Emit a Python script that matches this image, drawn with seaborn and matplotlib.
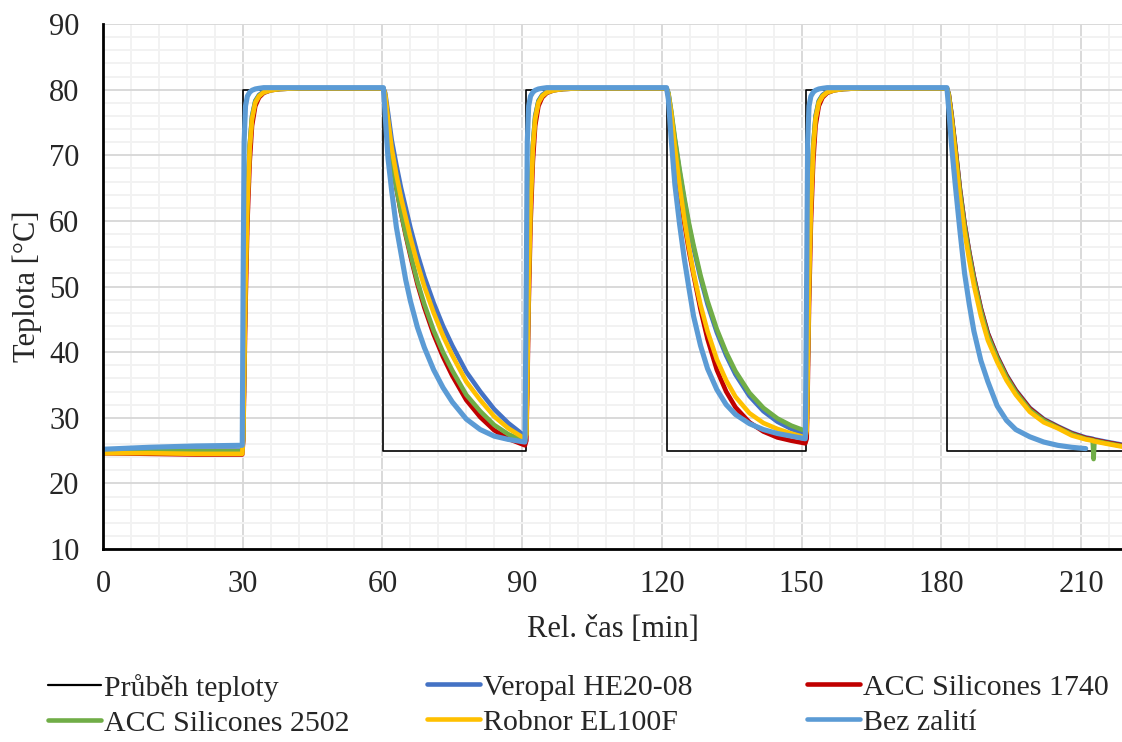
import numpy as np
import pandas as pd
import matplotlib
matplotlib.use("Agg")
import matplotlib.pyplot as plt
import seaborn as sns
from matplotlib.ticker import MultipleLocator

# ---------------- data ----------------
step_time = [0, 30.0, 30.0, 60.2, 60.2, 90.8, 90.8, 121.0, 121.0, 151.0, 151.0, 181.2, 181.2, 218.8]
step_temp = [25, 25, 80, 80, 25, 25, 80, 80, 25, 25, 80, 80, 25, 25]

time_min = [
    0, 10, 20, 29.9,
    30.1, 30.3, 30.6, 31.0, 31.5, 32.0, 32.7, 33.5, 34.5, 36.0, 38.0, 42.0, 50.0, 60.2,
    60.6, 61.2, 62.0, 63.0, 64.0, 65.0, 66.0, 67.5, 69.0, 71.0, 73.0, 75.0, 78.0, 81.0, 84.0, 87.0, 90.6,
    90.9, 91.1, 91.4, 91.8, 92.3, 92.8, 93.5, 94.3, 95.3, 96.8, 98.8, 102.8, 110.8, 121.0,
    121.4, 122.0, 122.8, 123.8, 124.8, 125.8, 126.8, 128.3, 129.8, 131.8, 133.8, 135.8, 138.8, 141.8, 144.8, 147.8, 150.8,
    151.1, 151.3, 151.6, 152.0, 152.5, 153.0, 153.7, 154.5, 155.5, 157.0, 159.0, 163.0, 171.0, 181.2,
    181.6, 182.2, 183.0, 184.0, 185.0, 186.0, 187.0, 188.5, 190.0, 192.0, 194.0, 196.0, 199.0, 202.0, 205.0, 208.0, 211.0,
    212.5, 212.7, 212.9, 215.0, 218.8,
]

veropal = [
    25.0, 25.0, 25.0, 25.0,
    27, 37, 51, 63, 71.5, 76, 78.3, 79.2, 79.7, 80.0, 80.1, 80.2, 80.2, 80.2,
    79.5, 76.5, 72.3, 68.5, 65, 62, 59, 55, 51.5, 47.5, 44, 41, 37, 34, 31.3, 29.2, 27.2,
    28, 37, 51, 63, 71.5, 76, 78.3, 79.2, 79.7, 80.0, 80.1, 80.2, 80.2, 80.2,
    79.5, 76.6, 72.3, 67.5, 63.2, 59.3, 55.9, 51.3, 47.3, 43.0, 39.5, 36.6, 33.3, 31.0, 29.4, 28.3, 27.5,
    28.5, 37, 51, 63, 71.5, 76, 78.3, 79.2, 79.7, 80.0, 80.1, 80.2, 80.2, 80.2,
    79.3, 76.2, 71.3, 64.9, 59.6, 55.3, 51.5, 46.7, 42.9, 39.4, 36.5, 34.2, 31.5, 29.8, 28.7, 27.7, 27.0,
    26.8, 26.7, 26.7, 26.4, 25.9,
]

acc_1740 = [
    24.6, 24.5, 24.4, 24.4,
    26.5, 34, 47, 59.5, 69, 74.5, 77.5, 78.8, 79.5, 79.9, 80.1, 80.2, 80.2, 80.2,
    79, 74.5, 69.5, 65, 61.2, 57.8, 54.7, 50.4, 46.8, 42.7, 39.3, 36.4, 32.7, 30.1, 28.1, 26.8, 25.8,
    26.5, 34, 47, 59.5, 69, 74.5, 77.5, 78.8, 79.5, 79.9, 80.1, 80.2, 80.2, 80.2,
    79, 75.5, 70, 64.5, 59.8, 55.5, 51.8, 46.5, 42, 37.3, 34.0, 31.6, 29.3, 27.9, 27.0, 26.5, 26.1,
    26.8, 34, 47, 59.5, 69, 74.5, 77.5, 78.8, 79.5, 79.9, 80.1, 80.2, 80.2, 80.2,
    79.3, 76.2, 71.3, 64.8, 59.5, 55.2, 51.4, 46.6, 42.8, 39.3, 36.4, 34.1, 31.4, 29.7, 28.6, 27.6, 26.9,
    26.7, 26.6, 26.6, 26.3, 25.8,
]

acc_2502 = [
    25.0, 24.9, 24.9, 24.9,
    27, 37, 51, 63, 71.5, 75.8, 78.2, 79.1, 79.6, 79.9, 80.1, 80.2, 80.2, 80.2,
    79, 74.5, 69.5, 65, 61.3, 58, 55, 50.8, 47.3, 43.3, 40, 37.2, 33.5, 31, 28.9, 27.5, 26.4,
    27.5, 37, 51, 63, 71.5, 75.8, 78.2, 79.1, 79.6, 79.9, 80.1, 80.2, 80.2, 80.2,
    79.5, 76.8, 72.6, 67.9, 63.6, 59.7, 56.3, 51.7, 47.8, 43.5, 40.0, 37.1, 33.8, 31.5, 29.9, 28.8, 28.0,
    29, 37.5, 51, 63, 71.5, 75.8, 78.2, 79.1, 79.6, 79.9, 80.1, 80.2, 80.2, 80.2,
    79.3, 76.0, 71.0, 64.5, 59.2, 54.9, 51.1, 46.3, 42.5, 39.1, 36.2, 33.9, 31.2, 29.6, 28.5, 27.5, 26.8,
    26.6, 23.7, 26.5, 26.2, 25.7,
]

robnor = [
    24.6, 24.6, 24.5, 24.5,
    27, 36, 50, 62, 71, 75.5, 78.0, 79.0, 79.6, 79.9, 80.1, 80.2, 80.2, 80.2,
    79.3, 75.5, 71, 67, 63.5, 60.5, 57.5, 53.5, 50, 46, 42.5, 39.5, 35.5, 32.7, 30.2, 28.4, 26.8,
    27.5, 36, 50, 62, 71, 75.5, 78.0, 79.0, 79.6, 79.9, 80.1, 80.2, 80.2, 80.2,
    79.3, 76.4, 71.2, 65.4, 60.4, 56.0, 52.1, 47.2, 43.2, 38.9, 35.7, 33.2, 30.7, 29.2, 28.3, 27.6, 27.0,
    28, 36.5, 50, 62, 71, 75.5, 78.0, 79.0, 79.6, 79.9, 80.1, 80.2, 80.2, 80.2,
    79, 75.5, 70.3, 63.5, 58.3, 54.0, 50.2, 45.5, 41.8, 38.5, 35.7, 33.5, 30.9, 29.3, 28.4, 27.3, 26.7,
    26.5, 26.4, 26.4, 26.1, 25.6,
]

nan = float("nan")
bez_zaliti = [
    25.2, 25.5, 25.7, 25.8,
    52, 72, 77.5, 79.0, 79.6, 79.9, 80.1, 80.2, 80.3, 80.3, 80.3, 80.3, 80.3, 80.3,
    76, 69.5, 64.5, 59, 55, 51, 47.8, 43.8, 40.7, 37.3, 34.6, 32.4, 29.8, 28.2, 27.2, 26.7, 26.3,
    52, 72, 77.5, 79.0, 79.6, 79.9, 80.1, 80.2, 80.3, 80.3, 80.3, 80.3, 80.3, 80.3,
    78.5, 72.5, 65.5, 59.5, 54.3, 49.8, 45.5, 41, 37.5, 34.3, 32.0, 30.5, 29.1, 28.2, 27.6, 27.2, 26.8,
    52, 72, 77.5, 79.0, 79.6, 79.9, 80.1, 80.2, 80.3, 80.3, 80.3, 80.3, 80.3, 80.3,
    77, 71.5, 65.5, 58.5, 52, 47.3, 43.2, 38.7, 35.5, 31.8, 29.6, 28.2, 27.1, 26.3, 25.8, 25.5, 25.3,
    nan, nan, nan, nan, nan,
]

series_names = ["Veropal HE20-08", "ACC Silicones 1740", "ACC Silicones 2502", "Robnor EL100F", "Bez zalití"]
series_values = [veropal, acc_1740, acc_2502, robnor, bez_zaliti]
series_colors = ["#4472C4", "#C00000", "#70AD47", "#FFC000", "#5B9BD5"]
series_widths = [3.3, 3.3, 3.3, 3.3, 3.7]

x_ticks = [0, 30, 60, 90, 120, 150, 180, 210]
y_ticks = [10, 20, 30, 40, 50, 60, 70, 80, 90]

# ---------------- styling ----------------
FS = 22
LFS = 21.5
sns.set_theme(style="white")
plt.rcParams["font.family"] = ["Liberation Serif", "DejaVu Serif"]
plt.rcParams["font.size"] = FS

fig = plt.figure(figsize=(11.22, 7.42), dpi=100)
ax = fig.add_axes([103 / 1122, 193 / 742, 1019 / 1122, 525 / 742])

step_df = pd.DataFrame({"t": step_time, "T": step_temp})
sns.lineplot(data=step_df, x="t", y="T", ax=ax, color="black", linewidth=1.2,
             estimator=None, sort=False, label="Průběh teploty")

for name, vals, col, lw in zip(series_names, series_values, series_colors, series_widths):
    df = pd.DataFrame({"t": time_min, "T": vals}).dropna()
    sns.lineplot(data=df, x="t", y="T", ax=ax, color=col, linewidth=lw,
                 estimator=None, sort=False, label=name)

ax.set_xlim(0, 218.8)
ax.set_ylim(10, 90)
ax.set_xticks(x_ticks)
ax.set_yticks(y_ticks)
ax.xaxis.set_minor_locator(MultipleLocator(6))
ax.yaxis.set_minor_locator(MultipleLocator(2))
ax.grid(which="major", color="#D9D9D9", linewidth=1.4)
ax.grid(which="minor", color="#F2F2F2", linewidth=1.4)
ax.set_axisbelow(True)
ax.tick_params(which="both", length=0, labelsize=FS)
ax.tick_params(axis="y", pad=17)
ax.tick_params(axis="x", pad=15)

for s in ["top", "right"]:
    ax.spines[s].set_visible(False)
for s in ["left", "bottom"]:
    ax.spines[s].set_color("black")
    ax.spines[s].set_linewidth(2.0)

ax.set_xlabel("Rel. čas [min]", fontsize=FS)
ax.set_ylabel("Teplota [°C]", fontsize=FS)
ax.xaxis.set_label_coords(0.5, -0.125)
ax.yaxis.set_label_coords(-0.060, 0.5)

handles, labels = ax.get_legend_handles_labels()
ax.get_legend().remove()
columns = [[0, 3], [1, 4], [2, 5]]
col_x = [0.0428, 0.3806, 0.7190]
for idxs, x0 in zip(columns, col_x):
    leg = fig.legend([handles[i] for i in idxs], [labels[i] for i in idxs],
                     ncol=1, loc="upper left", bbox_to_anchor=(x0, 0.092),
                     frameon=False, fontsize=LFS, borderpad=0, handlelength=1.77,
                     handletextpad=0.1, labelspacing=0.27, borderaxespad=0)
    for h in leg.get_lines():
        if h.get_color() != "black":
            h.set_linewidth(3.3)
        else:
            h.set_linewidth(1.6)

fig.savefig("out.png", dpi=100)
